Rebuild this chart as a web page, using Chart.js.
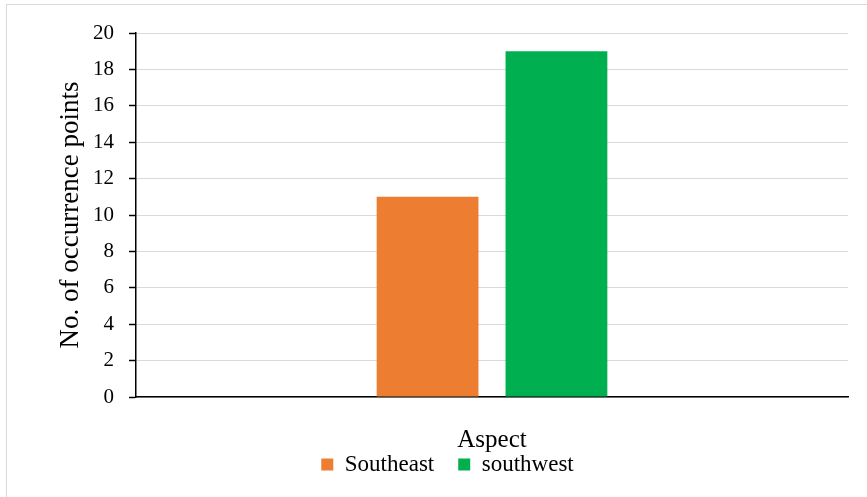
<!DOCTYPE html>
<html>
<head>
<meta charset="utf-8">
<script src="https://cdn.jsdelivr.net/npm/chart.js@4/dist/chart.umd.min.js"></script>
<style>
  html, body { margin: 0; padding: 0; background: #fff; overflow: hidden; }
  #wrap { position: relative; width: 867px; height: 497px; overflow: hidden; }
  #frame { position: absolute; left: 6px; top: 4px; width: 1000px; height: 1000px;
           border-top: 1px solid #d9d9d9; border-left: 1px solid #d9d9d9; }
  canvas { position: absolute; left: 0; top: 0; }
</style>
</head>
<body>
<div id="wrap">
  <div id="frame"></div>
  <canvas id="c" width="867" height="497"></canvas>
</div>
<script>
// Occurrence points by slope aspect
const categories = [''];
const seriesNames = ['Southeast', 'southwest'];
const southeast = [11];
const southwest = [19];
const yTicks = [0, 2, 4, 6, 8, 10, 12, 14, 16, 18, 20];

const serif = '"Liberation Serif", "Times New Roman", serif';

new Chart(document.getElementById('c'), {
  type: 'bar',
  data: {
    labels: categories,
    datasets: [
      { label: seriesNames[0], data: southeast, backgroundColor: '#ED7D31' },
      { label: seriesNames[1], data: southwest, backgroundColor: '#00B050' }
    ]
  },
  options: {
    responsive: false,
    animation: false,
    devicePixelRatio: 1,
    barPercentage: 0.79,
    categoryPercentage: 0.362,
    layout: { padding: { left: 47, right: 19, top: 33, bottom: 11 } },
    plugins: {
      tooltip: { enabled: false },
      legend: {
        position: 'bottom',
        labels: {
          boxWidth: 12,
          boxHeight: 12,
          padding: 24,
          color: '#000',
          font: { family: serif, size: 23 }
        }
      }
    },
    scales: {
      x: {
        grid: { display: false },
        border: { display: true, color: '#000', width: 1.5 },
        ticks: { display: false },
        title: {
          display: true,
          text: 'Aspect',
          color: '#000',
          font: { family: serif, size: 25 },
          padding: { top: 0, bottom: -26 }
        },
        afterFit: (s) => { s.height = 32; }
      },
      y: {
        min: 0,
        max: 20,
        afterBuildTicks: (s) => { s.ticks = yTicks.map(v => ({ value: v })); },
        grid: {
          color: '#d9d9d9',
          lineWidth: 1,
          drawTicks: true,
          tickLength: 7,
          tickColor: '#000',
          tickWidth: 1.5
        },
        border: { display: true, color: '#000', width: 1.5 },
        ticks: {
          color: '#000',
          padding: 15,
          font: { family: serif, size: 21 }
        },
        title: {
          display: true,
          text: 'No. of occurrence points',
          color: '#000',
          font: { family: serif, size: 27 },
          padding: { top: 8, bottom: 0 }
        },
        afterFit: (s) => { s.width = 89; }
      }
    }
  }
});
</script>
</body>
</html>
